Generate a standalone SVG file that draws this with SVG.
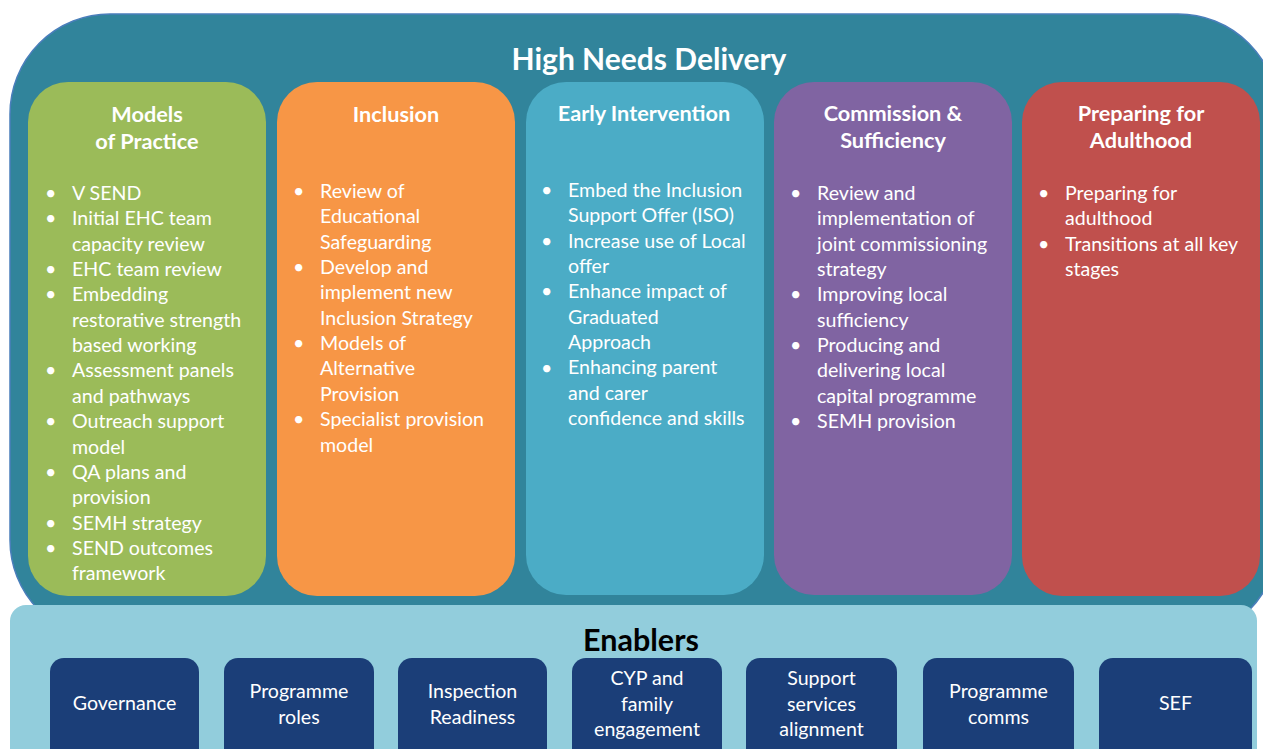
<svg xmlns="http://www.w3.org/2000/svg" width="1263" height="749" viewBox="0 0 1263 749">
<style>
.t{font-family:Lato,"Open Sans","Liberation Sans",sans-serif;fill:#fff}
.h{font-size:21.7px;font-weight:bold;text-anchor:middle}
.b{font-size:19.6px}
.e{font-size:19.6px;text-anchor:middle}
.col{stroke:none}
.en{fill:#1B3E78}
</style>
<rect x="0" y="0" width="1263" height="749" fill="#fff"/>
<g id="high-needs">
<rect x="10" y="14" width="1268" height="626" rx="100" fill="#31849B" stroke="#4A7EBB" stroke-width="1.5"/>
<text class="t" x="649" y="70" font-size="30" font-weight="bold" text-anchor="middle">High Needs Delivery</text>
</g>
<g id="models">
<rect class="col" x="28" y="82" width="238" height="514" rx="40" fill="#9BBB59"/>
<text class="t h" x="147" y="122">Models<tspan x="147" dy="27">of Practice</tspan></text>
<g class="t b">
<text x="45" y="200">•</text><text x="45" y="225.4">•</text><text x="45" y="276">•</text><text x="45" y="301.4">•</text><text x="45" y="377.4">•</text><text x="45" y="428">•</text><text x="45" y="478.8">•</text><text x="45" y="529.5">•</text><text x="45" y="554.9">•</text>
<text x="72" y="200">V SEND<tspan x="72" dy="25.35">Initial EHC team</tspan><tspan x="72" dy="25.35">capacity review</tspan><tspan x="72" dy="25.35">EHC team review</tspan><tspan x="72" dy="25.35">Embedding</tspan><tspan x="72" dy="25.35">restorative strength</tspan><tspan x="72" dy="25.35">based working</tspan><tspan x="72" dy="25.35">Assessment panels</tspan><tspan x="72" dy="25.35">and pathways</tspan><tspan x="72" dy="25.35">Outreach support</tspan><tspan x="72" dy="25.35">model</tspan><tspan x="72" dy="25.35">QA plans and</tspan><tspan x="72" dy="25.35">provision</tspan><tspan x="72" dy="25.35">SEMH strategy</tspan><tspan x="72" dy="25.35">SEND outcomes</tspan><tspan x="72" dy="25.35">framework</tspan></text>
</g>
</g>
<g id="inclusion">
<rect class="col" x="277" y="82" width="238" height="514" rx="40" fill="#F79646"/>
<text class="t h" x="396" y="122">Inclusion</text>
<g class="t b">
<text x="293" y="198">•</text><text x="293" y="274">•</text><text x="293" y="350.1">•</text><text x="293" y="426.2">•</text>
<text x="320" y="198">Review of<tspan x="320" dy="25.35">Educational</tspan><tspan x="320" dy="25.35">Safeguarding</tspan><tspan x="320" dy="25.35">Develop and</tspan><tspan x="320" dy="25.35">implement new</tspan><tspan x="320" dy="25.35">Inclusion Strategy</tspan><tspan x="320" dy="25.35">Models of</tspan><tspan x="320" dy="25.35">Alternative</tspan><tspan x="320" dy="25.35">Provision</tspan><tspan x="320" dy="25.35">Specialist provision</tspan><tspan x="320" dy="25.35">model</tspan></text>
</g>
</g>
<g id="early-intervention">
<rect class="col" x="526" y="82" width="238" height="513" rx="40" fill="#4BACC6"/>
<text class="t h" x="644" y="121">Early Intervention</text>
<g class="t b">
<text x="541" y="197">•</text><text x="541" y="247.7">•</text><text x="541" y="298.4">•</text><text x="541" y="374.5">•</text>
<text x="568" y="197">Embed the Inclusion<tspan x="568" dy="25.35">Support Offer (ISO)</tspan><tspan x="568" dy="25.35">Increase use of Local</tspan><tspan x="568" dy="25.35">offer</tspan><tspan x="568" dy="25.35">Enhance impact of</tspan><tspan x="568" dy="25.35">Graduated</tspan><tspan x="568" dy="25.35">Approach</tspan><tspan x="568" dy="25.35">Enhancing parent</tspan><tspan x="568" dy="25.35">and carer</tspan><tspan x="568" dy="25.35">confidence and skills</tspan></text>
</g>
</g>
<g id="commission">
<rect class="col" x="774" y="82" width="238" height="513" rx="40" fill="#8064A2"/>
<text class="t h" x="893" y="121">Commission &amp;<tspan x="893" dy="27">Sufficiency</tspan></text>
<g class="t b">
<text x="790" y="200">•</text><text x="790" y="301.4">•</text><text x="790" y="352.1">•</text><text x="790" y="428.2">•</text>
<text x="817" y="200">Review and<tspan x="817" dy="25.35">implementation of</tspan><tspan x="817" dy="25.35">joint commissioning</tspan><tspan x="817" dy="25.35">strategy</tspan><tspan x="817" dy="25.35">Improving local</tspan><tspan x="817" dy="25.35">sufficiency</tspan><tspan x="817" dy="25.35">Producing and</tspan><tspan x="817" dy="25.35">delivering local</tspan><tspan x="817" dy="25.35">capital programme</tspan><tspan x="817" dy="25.35">SEMH provision</tspan></text>
</g>
</g>
<g id="adulthood">
<rect class="col" x="1022" y="82" width="238" height="514" rx="40" fill="#C0504D"/>
<text class="t h" x="1141" y="121">Preparing for<tspan x="1141" dy="27">Adulthood</tspan></text>
<g class="t b">
<text x="1038" y="200">•</text><text x="1038" y="250.7">•</text>
<text x="1065" y="200">Preparing for<tspan x="1065" dy="25.35">adulthood</tspan><tspan x="1065" dy="25.35">Transitions at all key</tspan><tspan x="1065" dy="25.35">stages</tspan></text>
</g>
</g>
<g id="enablers">
<rect x="10" y="605" width="1247" height="170" rx="16" fill="#92CDDC"/>
<text x="641" y="651" font-family="Lato,'Open Sans','Liberation Sans',sans-serif" font-size="30.5" font-weight="bold" fill="#000" text-anchor="middle">Enablers</text>
</g>
<g id="governance"><rect class="en" x="50" y="658" width="149" height="110" rx="14"/><text class="t e" x="124.5" y="710">Governance</text></g>
<g id="programme-roles"><rect class="en" x="224" y="658" width="150" height="110" rx="14"/><text class="t e" x="299" y="698">Programme<tspan x="299" dy="25.5">roles</tspan></text></g>
<g id="inspection"><rect class="en" x="398" y="658" width="149" height="110" rx="14"/><text class="t e" x="472.5" y="698">Inspection<tspan x="472.5" dy="25.5">Readiness</tspan></text></g>
<g id="cyp"><rect class="en" x="572" y="658" width="150" height="110" rx="14"/><text class="t e" x="647" y="685">CYP and<tspan x="647" dy="25.5">family</tspan><tspan x="647" dy="25.5">engagement</tspan></text></g>
<g id="support"><rect class="en" x="746" y="658" width="151" height="110" rx="14"/><text class="t e" x="821.5" y="685">Support<tspan x="821.5" dy="25.5">services</tspan><tspan x="821.5" dy="25.5">alignment</tspan></text></g>
<g id="programme-comms"><rect class="en" x="923" y="658" width="151" height="110" rx="14"/><text class="t e" x="998.5" y="698">Programme<tspan x="998.5" dy="25.5">comms</tspan></text></g>
<g id="sef"><rect class="en" x="1099" y="658" width="153" height="110" rx="14"/><text class="t e" x="1175.5" y="710">SEF</text></g>
<g id="connectors"/>
</svg>
